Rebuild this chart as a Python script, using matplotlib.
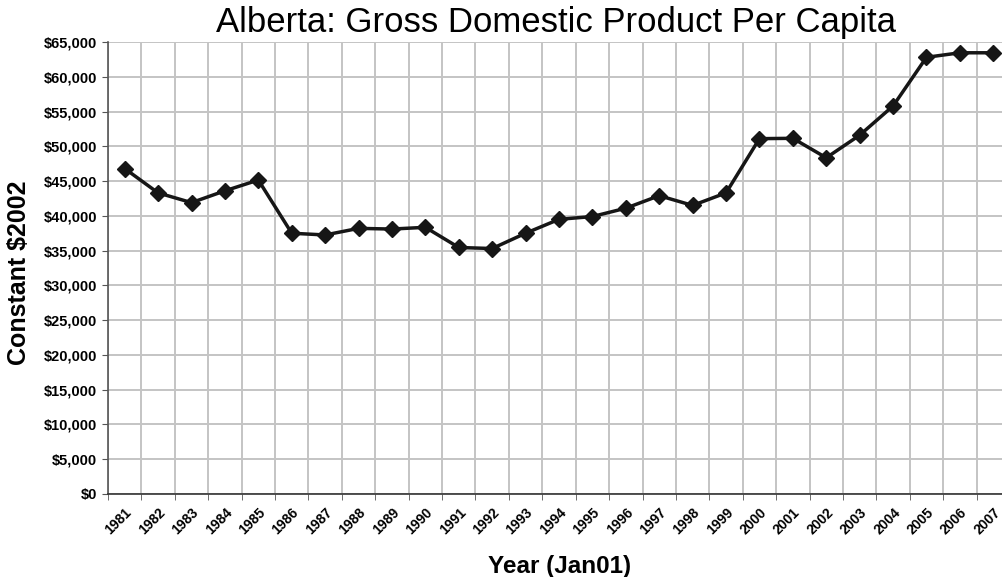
import numpy as np
import matplotlib.pyplot as plt
import matplotlib.transforms as mtransforms
from matplotlib.ticker import FuncFormatter, MultipleLocator

plt.rcParams['font.family'] = ['Liberation Sans', 'DejaVu Sans']

# Years and GDP per capita (constant 2002 dollars)
years = list(range(1981, 2008))
gdp = [46800, 43300, 41900, 43600, 45150, 37500, 37250, 38200, 38100, 38350,
       35450, 35300, 37500, 39500, 39900, 41100, 42900, 41500, 43300,
       51100, 51150, 48350, 51600, 55800, 62800, 63450, 63450]

fig = plt.figure(figsize=(10.02, 5.77), dpi=100)
# plot area runs past the right edge of the image, as in the original
ax = fig.add_axes([108 / 1002, 1 - 494 / 577, 902 / 1002, 452 / 577])

x = np.arange(len(years)) + 0.5
ax.plot(x, gdp, color='#161616', linewidth=2.5, marker='D', markersize=8,
        zorder=3, clip_on=False)

ax.set_xlim(0, len(years))
ax.set_ylim(0, 65000)

# gridlines on category borders, labels on category centres
ax.set_xticks(np.arange(len(years) + 1), minor=True)
ax.set_xticks(x)
ax.set_xticklabels(years, rotation=45, ha='right', va='top',
                   rotation_mode='anchor', fontsize=10, fontweight='bold')
shift = mtransforms.ScaledTranslation(-11 / 100, 0, fig.dpi_scale_trans)
for lab in ax.get_xticklabels():
    lab.set_transform(lab.get_transform() + shift)
ax.tick_params(axis='x', which='major', length=0, pad=8)
ax.tick_params(axis='x', which='minor', length=4, color='#555555')
ax.grid(True, which='minor', axis='x', color='#c4c4c4', linewidth=1.4)

ax.yaxis.set_major_locator(MultipleLocator(5000))
ax.yaxis.set_major_formatter(FuncFormatter(lambda v, p: "${:,.0f}".format(v)))
for lab in ax.get_yticklabels():
    lab.set_fontweight('bold')
ax.tick_params(axis='y', labelsize=10.5, length=4, color='#555555', pad=4)
ax.grid(True, which='major', axis='y', color='#c4c4c4', linewidth=1.4)
ax.set_axisbelow(True)

for s in ['top', 'right']:
    ax.spines[s].set_visible(False)
ax.spines['left'].set_color('#555555')
ax.spines['bottom'].set_color('#333333')
ax.spines['left'].set_linewidth(1.2)
ax.spines['bottom'].set_linewidth(1.2)

fig.text(556 / 1002, 1 - 32 / 577, "Alberta: Gross Domestic Product Per Capita",
         fontsize=25, ha='center', va='baseline')
fig.text(19 / 1002, 1 - 273 / 577, "Constant $2002", fontsize=18,
         fontweight='bold', rotation=90, ha='center', va='center')
fig.text(560 / 1002, 1 - 566 / 577, "Year (Jan01)", fontsize=17.5,
         fontweight='bold', ha='center', va='center')

plt.savefig("out.png", dpi=100)
